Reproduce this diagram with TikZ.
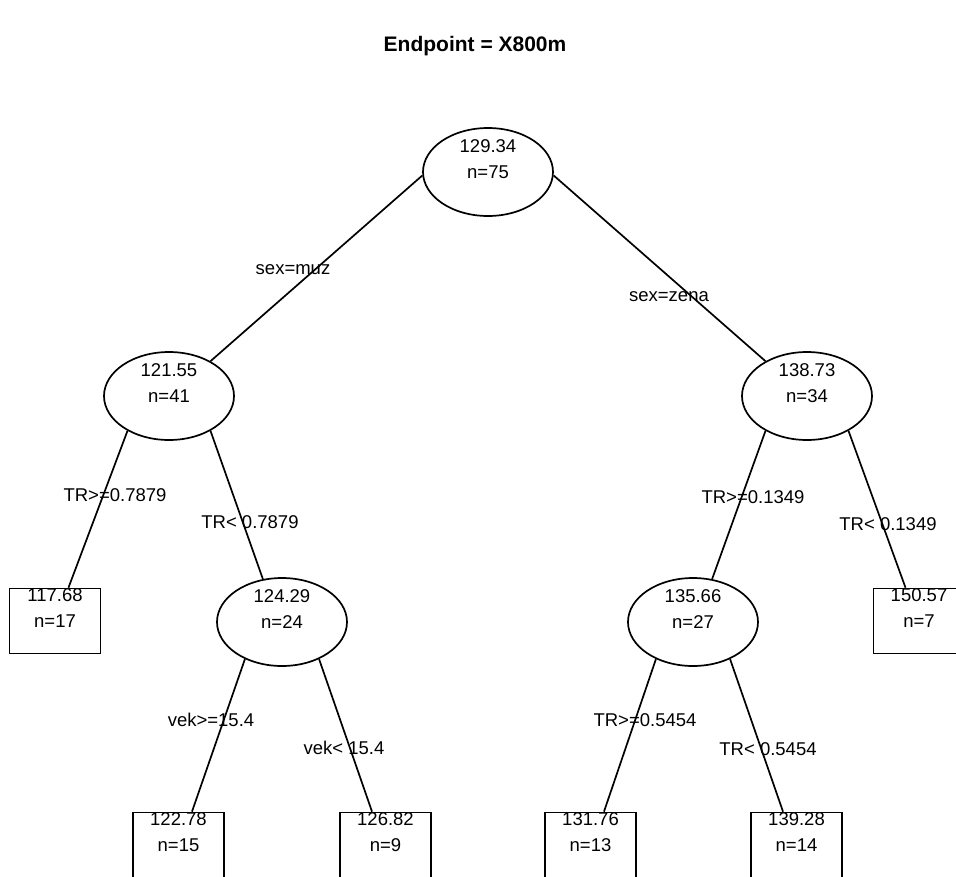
\documentclass[tikz,border=0pt]{standalone}
\usepackage{fontspec}
\setmainfont{Liberation Sans}
\usetikzlibrary{shapes.geometric}

\tikzset{
  split/.style={ellipse, draw, line width=1.7pt, minimum width=130pt, minimum height=88pt, inner sep=0pt},
  leaf/.style={rectangle, draw, line width=1.7pt, minimum width=91pt, minimum height=65pt, inner sep=0pt},
  stat/.style={align=center, font=\fontsize{18.5}{26}\selectfont, yshift=13pt, inner sep=0pt},
  cut/.style={font=\fontsize{18.5}{22}\selectfont, inner sep=0pt},
  branch/.style={line width=1.7pt}
}

\begin{document}
\begin{tikzpicture}[x=1pt,y=-1pt]
  \useasboundingbox (0,0) rectangle (956,876);
  \clip (0,0) rectangle (956,876);
  % title
  \node[font=\bfseries\fontsize{21}{25}\selectfont] at(475,46)(title){Endpoint = X800m};
  % split nodes
  \node[split] at(488,172)(root){};
  \node[split] at(169,396)(n41){};
  \node[split] at(807,396)(n34){};
  \node[split] at(282,622)(n24){};
  \node[split] at(693,622)(n27){};
  \node[stat] at(root)(root txt){129.34\\n=75};
  \node[stat] at(n41)(n41 txt){121.55\\n=41};
  \node[stat] at(n34)(n34 txt){138.73\\n=34};
  \node[stat] at(n24)(n24 txt){124.29\\n=24};
  \node[stat] at(n27)(n27 txt){135.66\\n=27};
  % leaves
  \node[leaf] at(55,621)(n17){};
  \node[leaf] at(919,621)(n7){};
  \node[leaf] at(178.5,845)(n15){};
  \node[leaf] at(385.5,845)(n9){};
  \node[leaf] at(590.5,845)(n13){};
  \node[leaf] at(796.5,845)(n14){};
  \node[stat] at(n17)(n17 txt){117.68\\n=17};
  \node[stat] at(n7)(n7 txt){150.57\\n=7};
  \node[stat] at(n15)(n15 txt){122.78\\n=15};
  \node[stat] at(n9)(n9 txt){126.82\\n=9};
  \node[stat] at(n13)(n13 txt){131.76\\n=13};
  \node[stat] at(n14)(n14 txt){139.28\\n=14};
  % branches
  \draw[branch] (root.183) -- (n41.40);
  \draw[branch] (root.-3) -- (n34.140);
  \draw[branch] (n41.220) -- (n17.68);
  \draw[branch] (n41.320) -- (n24.114);
  \draw[branch] (n34.220) -- (n27.66);
  \draw[branch] (n34.320) -- (n7.112);
  \draw[branch] (n24.225) -- (n15.68);
  \draw[branch] (n24.315) -- (n9.112);
  \draw[branch] (n27.225) -- (n13.68);
  \draw[branch] (n27.315) -- (n14.112);
  % split labels
  \node[cut] at(293,270)(c1){sex=muz};
  \node[cut] at(669,297)(c2){sex=zena};
  \node[cut] at(115,495)(c3){TR>=0.7879};
  \node[cut] at(250,522)(c4){TR< 0.7879};
  \node[cut] at(753,497)(c5){TR>=0.1349};
  \node[cut] at(888,524)(c6){TR< 0.1349};
  \node[cut] at(211,720)(c7){vek>=15.4};
  \node[cut] at(344,748)(c8){vek< 15.4};
  \node[cut] at(645,720)(c9){TR>=0.5454};
  \node[cut] at(768,749)(c10){TR< 0.5454};
\end{tikzpicture}
\end{document}
